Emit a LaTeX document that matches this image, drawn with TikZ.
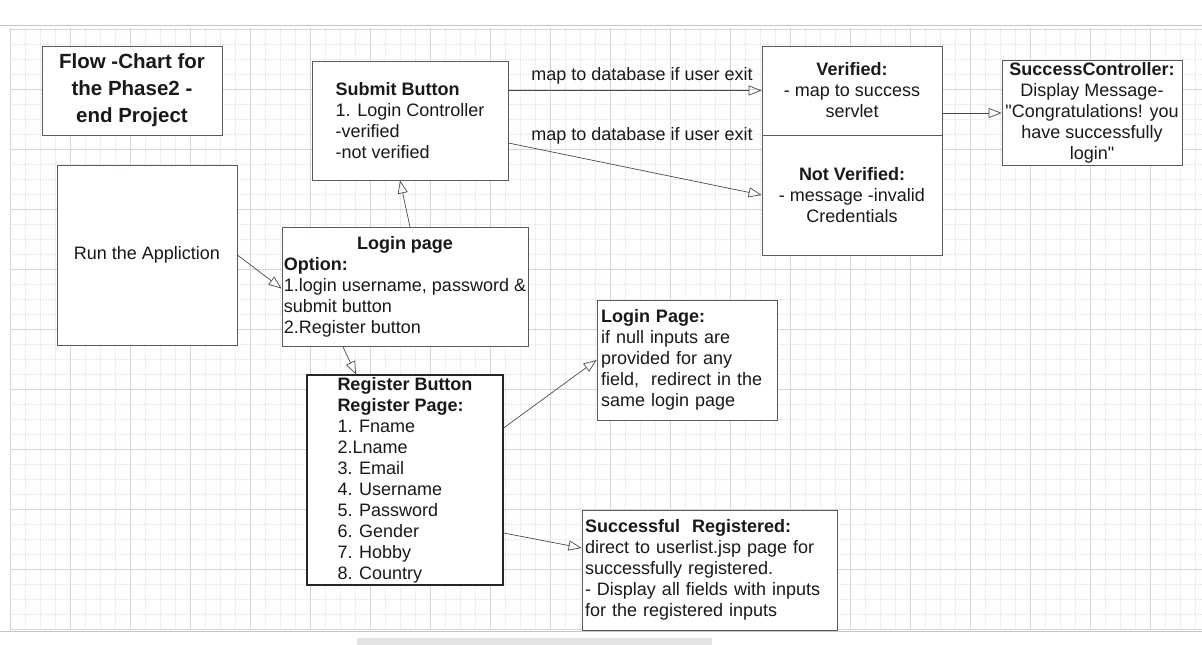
\documentclass[tikz,border=0pt]{standalone}
\usepackage{fontspec}
\setmainfont{Liberation Sans}
\usetikzlibrary{arrows.meta}

\definecolor{boxgray}{HTML}{5A5A5A}
\definecolor{linegray}{HTML}{4A4A4A}
\definecolor{gridmaj}{HTML}{D4D8D4}
\definecolor{gridmin}{HTML}{ECE6EF}
\definecolor{barGray}{HTML}{E4E4E4}

\newcommand{\bodyfont}{\fontsize{18}{21}\selectfont}

\tikzset{
	box/.style={draw=boxgray, line width=0.8pt, fill=white, inner sep=2pt, font=\bodyfont, text=black!90},
	flow/.style={draw=linegray, line width=0.7pt, -{Triangle[open,length=13pt,width=10pt]}},
	note/.style={font=\bodyfont, text=black!90, inner sep=0pt}
}

\begin{document}
\begin{tikzpicture}[x=1pt,y=-1pt]
	\useasboundingbox (0,0) rectangle (1202,645);
	\fill[white] (0,0) rectangle (1202,645);
	
	% canvas grid
	\foreach \x in {25,40,...,1200}
	\draw[gridmin, densely dotted, line width=0.5pt] (\x,28) -- (\x,629);
	\foreach \y in {44,59,...,629}
	\draw[gridmin, densely dotted, line width=0.5pt] (10,\y) -- (1202,\y);
	\foreach \x in {10,70,...,1190}
	\draw[gridmaj, line width=0.8pt] (\x,28) -- (\x,629);
	\foreach \y in {29,89,...,629}
	\draw[gridmaj, line width=0.8pt] (10,\y) -- (1202,\y);
	\draw[gray!45, line width=0.8pt] (0,25) -- (1202,25);
	\draw[gray!45, line width=0.8pt] (0,631) -- (1202,631);
	\fill[barGray] (357,638) rectangle (712,645);
	
	% boxes
	\node (title) [box, minimum width=180, minimum height=89, align=center,
		font=\fontsize{20.5}{27}\selectfont\bfseries] at (132,90.5)
		{Flow -Chart for\\the Phase2 -\\end Project};
	\node (submit) [box, minimum width=196, minimum height=119, align=left] at (410,120.5)
		{\textbf{Submit Button}\\1. Login Controller\\-verified\\-not verified};
	\node (verified) [box, minimum width=180, minimum height=89, align=center] at (852,90.5)
		{\textbf{Verified:}\\- map to success\\servlet};
	\node (notverified) [box, minimum width=180, minimum height=120, align=center] at (852,195)
		{\textbf{Not Verified:}\\- message -invalid\\Credentials};
	\node (success) [box, minimum width=180, minimum height=104, align=center] at (1092,113)
		{\textbf{SuccessController:}\\Display Message-\\\textquotedbl Congratulations! you\\have successfully\\login\textquotedbl};
	\node (run) [box, minimum width=180, minimum height=180] at (147,255)
		{Run the Appliction};
	\node (login) [box, minimum width=246, minimum height=119] at (405,287)
		{\begin{tabular}{@{}l@{}}
			\multicolumn{1}{@{}c@{}}{\textbf{Login page}}\\
			\textbf{Option:}\\
			1.login username, password \&\\
			submit button\\
			2.Register button
		\end{tabular}};
	\node (register) [box, draw=black!85, line width=1.2pt, minimum width=196, minimum height=210, align=left] at (405,480)
		{\textbf{Register Button}\\\textbf{Register Page:}\\1. Fname\\2.Lname\\3. Email\\4. Username\\5. Password\\6. Gender\\7. Hobby\\8. Country};
	\node (nullpage) [box, minimum height=120, inner sep=4pt, text width=172, align=left] at (687,360)
		{\textbf{Login Page:}\\if null inputs are\\provided for any\\field,\ \ redirect in the\\same login page};
	\node (regdone) [box, minimum height=120, inner sep=3pt, text width=249, align=left] at (709.5,570)
		{\textbf{Successful\ \ Registered:}\\direct to userlist.jsp page for\\successfully registered.\\- Display all fields with inputs\\for the registered inputs};
	
	% labels
	\node (lblA) [note] at (642,76) {map to database if user exit};
	\node (lblB) [note] at (642,136) {map to database if user exit};
	
	% connectors
	\draw [flow] (submit.east |- verified.west) -- (verified.west);
	\draw [flow] ([yshift=-22.5pt]submit.east) -- (notverified.west);
	\draw [flow] (success.west -| verified.east) -- (success.west);
	\draw [flow] (run.east) -- ([yshift=-1.5pt]login.west);
	\draw [flow] ([xshift=5pt]login.north) -- ([xshift=-10pt]submit.south);
	\draw [flow] ([xshift=-62pt]login.south) -- ([xshift=-49pt]register.north);
	\draw [flow] ([yshift=52pt]register.east) -- (nullpage.west);
	\draw [flow] ([yshift=-53pt]register.east) -- ([yshift=22pt]regdone.west);
	
\end{tikzpicture}
\end{document}
